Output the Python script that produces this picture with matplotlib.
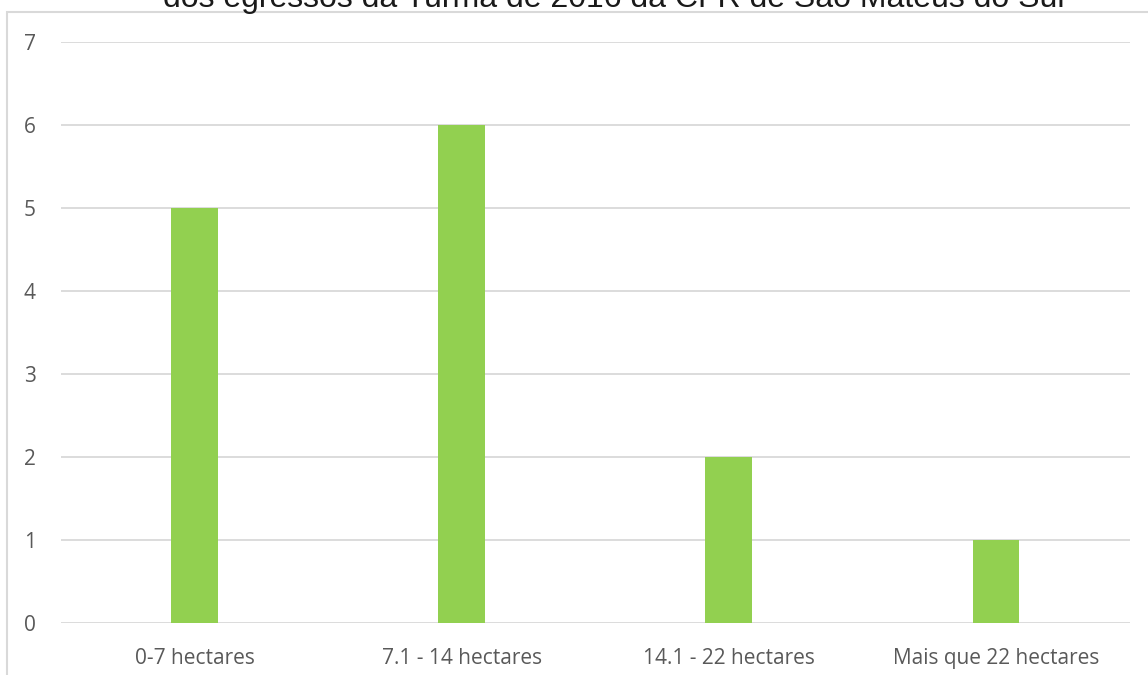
import matplotlib.pyplot as plt
from matplotlib.patches import Rectangle

categorias = ['0-7 hectares', '7.1 - 14 hectares', '14.1 - 22 hectares', 'Mais que 22 hectares']
valores = [5, 6, 2, 1]
titulo = 'dos egressos da Turma de 2016 da CFR de São Mateus do Sul'

fig = plt.figure(figsize=(11.48, 6.75), dpi=100)
ax = fig.add_axes([0.053, 0.077, 0.931, 0.861])

# moldura cinza do gráfico
fig.patches.append(Rectangle((7 / 1148, -0.1), 1.2, 1 - 12 / 675 + 0.1, transform=fig.transFigure,
                             fill=False, edgecolor='#d9d9d9', linewidth=1.5))

x = range(len(categorias))
ax.bar(x, valores, width=0.175, color='#92D050', zorder=3)

ax.set_xlim(-0.5, len(categorias) - 0.5)
ax.set_ylim(0, 7)
ax.set_yticks(range(0, 8))
ax.set_xticks(list(x))
ax.set_xticklabels(categorias)
ax.grid(axis='y', color='#d9d9d9', linewidth=1.3, zorder=0)
for s in ax.spines.values():
    s.set_visible(False)
ax.tick_params(length=0, labelsize=15, labelcolor='#595959', pad=18)
ax.tick_params(axis='y', pad=18)
for lab in ax.get_xticklabels() + ax.get_yticklabels():
    lab.set_family('Open Sans')

# título cortado no topo, como no original
fig.text(0.535, 1 - 7 / 675, titulo, ha='center', va='baseline', fontsize=23,
         family='Liberation Sans', color='#1a1a1a')

fig.savefig('out.png', dpi=100)
